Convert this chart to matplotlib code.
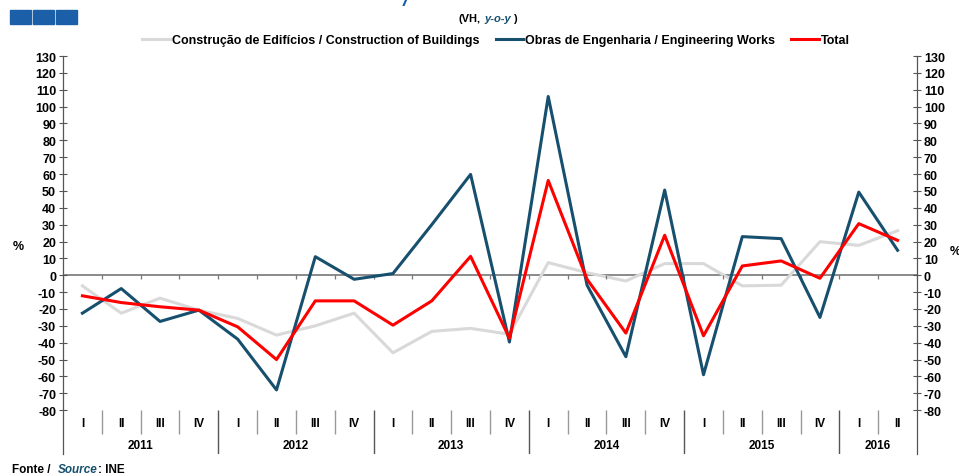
import matplotlib
matplotlib.use("Agg")
import matplotlib.pyplot as plt
from matplotlib.patches import Rectangle
from matplotlib.lines import Line2D

plt.rcParams['font.family'] = ['Liberation Sans', 'DejaVu Sans']
plt.rcParams['font.weight'] = 'bold'
plt.rcParams['axes.unicode_minus'] = False

# dados (VH, y-o-y)
anos = ['2011', '2012', '2013', '2014', '2015', '2016']
trimestres = ['I', 'II', 'III', 'IV']
n_trim_ano = [4, 4, 4, 4, 4, 2]

edificios = [-6.3, -22.5, -13.6, -20.7, -25.6, -35.5, -30.0, -22.5, -46.0, -33.3, -31.5,
             -35.0, 7.5, 1.5, -3.4, 6.9, 6.9, -6.3, -5.9, 19.9, 17.7, 26.4]
engenharia = [-22.5, -7.9, -27.4, -20.7, -37.9, -68.0, 11.0, -2.4, 1.0, 30.0, 59.8,
              -39.6, 106.0, -5.9, -48.3, 50.5, -59.0, 22.9, 21.7, -25.0, 49.3, 14.8]
total = [-12.2, -16.2, -18.7, -20.7, -30.6, -50.0, -15.2, -15.2, -29.6, -15.2, 11.2,
         -37.3, 56.2, -2.4, -34.3, 23.7, -35.9, 5.5, 8.5, -1.8, 30.6, 20.7]

cor_edif = '#d9d9d9'
cor_eng = '#17506e'
cor_total = '#ff0000'
azul = '#1a5fa8'

fig = plt.figure(figsize=(9.59, 4.77), dpi=100)
ax = fig.add_axes([63 / 959, 22 / 477, (917 - 63) / 959, (455 - 57) / 477])

n = len(total)
x = [i + 0.5 for i in range(n)]
ax.plot(x, edificios, color=cor_edif, lw=2.2, zorder=2)
ax.plot(x, engenharia, color=cor_eng, lw=2.2, zorder=3)
ax.plot(x, total, color=cor_total, lw=2.2, zorder=4)

ax.set_xlim(0, n)
ax.set_ylim(-106, 130)
ax.set_yticks(range(-80, 131, 10))
ax.tick_params(axis='y', direction='inout', length=6, width=0.8, color='#555555',
               labelsize=9, right=True, labelright=True, pad=2)
for lab in ax.get_yticklabels():
    lab.set_fontweight('bold')
ax.set_xticks([])
for s in ['top', 'bottom']:
    ax.spines[s].set_visible(False)
for s in ['left', 'right']:
    ax.spines[s].set_color('#555555')
    ax.spines[s].set_linewidth(0.9)

# linha do zero e marcas
ax.axhline(0, color='#777777', lw=1.2, zorder=1)
ax.vlines(range(0, n + 1), -2, 0, color='#777777', lw=0.9)

# eixo das categorias
fronteiras = []
pos = 0
for k, ano in enumerate(anos):
    for q in range(n_trim_ano[k]):
        ax.text(pos + q + 0.5, -87.5, trimestres[q], ha='center', va='center',
                fontsize=8.5, fontweight='bold')
    ax.text(pos + n_trim_ano[k] / 2, -100.5, ano, ha='center', va='center',
            fontsize=8.5, fontweight='bold')
    pos += n_trim_ano[k]
    fronteiras.append(pos)
anos_sep = fronteiras[:-1]
quarter_sep = [i for i in range(1, n) if i not in anos_sep]
ax.vlines(quarter_sep, -94, -80, color='#999999', lw=1.0)
ax.vlines(anos_sep, -106, -80, color='#555555', lw=1.0)

# % labels
fig.text(18 / 959, 1 - 247 / 477, '%', ha='center', va='center', fontsize=9, fontweight='bold')
fig.text(955 / 959, 1 - 252 / 477, '%', ha='center', va='center', fontsize=9, fontweight='bold')

# legenda
handles = [Line2D([], [], color=cor_edif, lw=2.2),
           Line2D([], [], color=cor_eng, lw=2.2),
           Line2D([], [], color=cor_total, lw=2.2)]
labels = ['Construção de Edifícios / Construction of Buildings',
          'Obras de Engenharia / Engineering Works', 'Total']
fig.legend(handles, labels, loc='center', bbox_to_anchor=(496 / 959, 1 - 41 / 477),
           ncol=3, frameon=False, handlelength=2.2, handletextpad=0.15,
           columnspacing=1.3, prop={'weight': 'bold', 'size': 9})

# subtitulo
fig.text(481 / 959, 1 - 19 / 477, '(VH,', ha='right', va='center', fontsize=8, fontweight='bold')
fig.text(484 / 959, 1 - 19 / 477, 'y-o-y', ha='left', va='center', fontsize=8,
         fontweight='bold', style='italic', color=cor_eng)
fig.text(513 / 959, 1 - 19 / 477, ')', ha='left', va='center', fontsize=8, fontweight='bold')

# pedaco do titulo cortado
fig.text(405 / 959, 1 - 2 / 477, '/', ha='center', va='center', fontsize=14,
         fontweight='bold', style='italic', color=azul)

# logo
for i in range(3):
    fig.patches.append(Rectangle(((10 + i * 23) / 959, 1 - 25 / 477), 21 / 959, 14 / 477,
                                 transform=fig.transFigure, color=azul))

# fonte
fig.text(12 / 959, 1 - 470 / 477, 'Fonte /', ha='left', va='center', fontsize=8.5, fontweight='bold')
fig.text(58 / 959, 1 - 470 / 477, 'Source', ha='left', va='center', fontsize=8.5,
         fontweight='bold', style='italic', color=cor_eng)
fig.text(98 / 959, 1 - 470 / 477, ': INE', ha='left', va='center', fontsize=8.5, fontweight='bold')

fig.savefig('out.png', dpi=100)
